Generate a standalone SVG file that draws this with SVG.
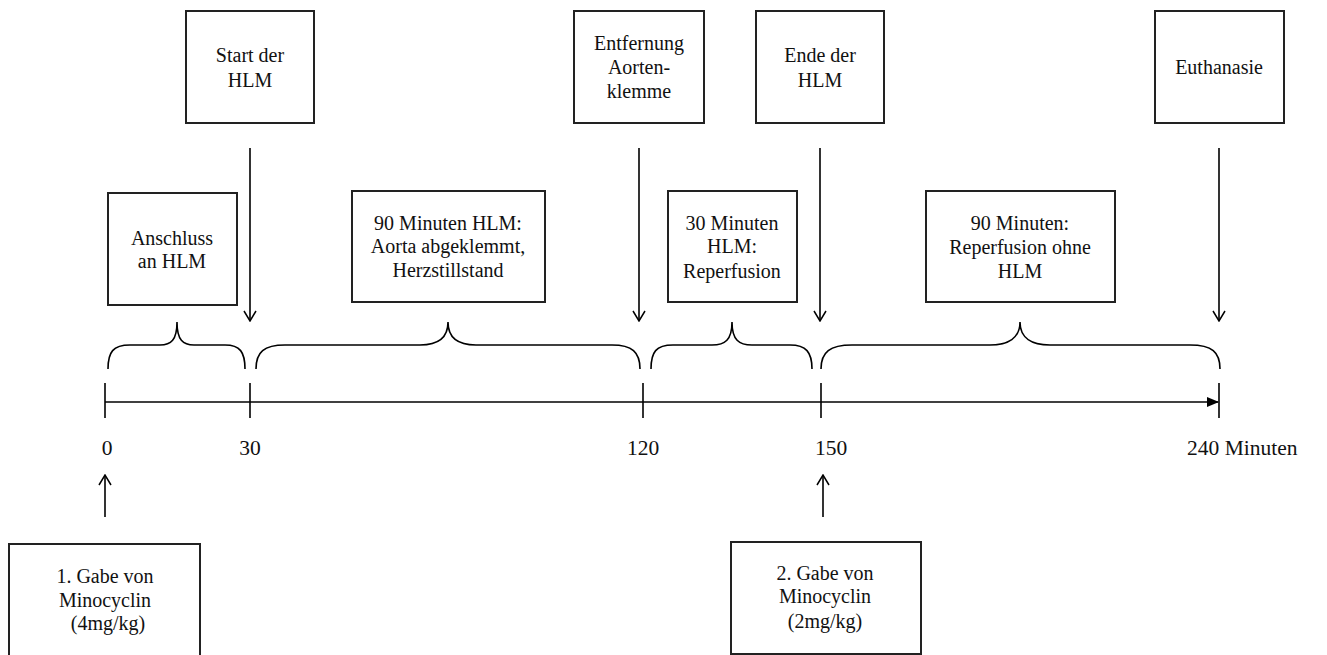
<svg xmlns="http://www.w3.org/2000/svg" width="1327" height="655" viewBox="0 0 1327 655">
<defs>
<marker id="vhead" viewBox="0 0 12 14" refX="11" refY="7" markerWidth="12" markerHeight="14" markerUnits="userSpaceOnUse" orient="auto">
<path d="M1,1 L11,7 L1,13" fill="none" stroke="#000" stroke-width="1.5"/>
</marker>
<marker id="fhead" viewBox="0 0 12 10" refX="11" refY="5" markerWidth="12" markerHeight="10" markerUnits="userSpaceOnUse" orient="auto">
<path d="M0,0 L12,5 L0,10 Z" fill="#000"/>
</marker>
</defs>
<style>
.box{fill:#fff;stroke:#222;stroke-width:2}
text{font-family:'Liberation Serif',serif;fill:#111}
.t{font-size:20px;text-anchor:middle}
.ax{font-size:21.5px}
.ln{stroke:#000;stroke-width:1.6;fill:none}
.br{stroke:#000;stroke-width:1.6;fill:none}
</style>
<rect width="1327" height="655" fill="#fff"/>

<g id="start">
<rect class="box" x="186" y="11" width="128" height="112"/>
<text class="t" x="250" y="62">Start der</text>
<text class="t" x="250" y="87">HLM</text>
</g>
<g id="entfernung">
<rect class="box" x="574" y="11" width="130" height="112"/>
<text class="t" x="639" y="50">Entfernung</text>
<text class="t" x="639" y="74">Aorten-</text>
<text class="t" x="639" y="98">klemme</text>
</g>
<g id="ende">
<rect class="box" x="756" y="11" width="128" height="112"/>
<text class="t" x="820" y="62">Ende der</text>
<text class="t" x="820" y="87">HLM</text>
</g>
<g id="euthanasie">
<rect class="box" x="1155" y="11" width="129" height="112"/>
<text class="t" x="1219" y="74">Euthanasie</text>
</g>
<g id="anschluss">
<rect class="box" x="108" y="193" width="129" height="112"/>
<text class="t" x="172" y="245">Anschluss</text>
<text class="t" x="172" y="268">an HLM</text>
</g>
<g id="phase90a">
<rect class="box" x="352" y="191" width="193" height="111"/>
<text class="t" x="448" y="230">90 Minuten HLM:</text>
<text class="t" x="448" y="253">Aorta abgeklemmt,</text>
<text class="t" x="448" y="277">Herzstillstand</text>
</g>
<g id="phase30">
<rect class="box" x="668" y="191" width="129" height="111"/>
<text class="t" x="732" y="230">30 Minuten</text>
<text class="t" x="732" y="253">HLM:</text>
<text class="t" x="732" y="278">Reperfusion</text>
</g>
<g id="phase90b">
<rect class="box" x="926" y="191" width="189" height="111"/>
<text class="t" x="1020" y="230">90 Minuten:</text>
<text class="t" x="1020" y="254">Reperfusion ohne</text>
<text class="t" x="1020" y="278">HLM</text>
</g>
<g id="gabe1">
<rect class="box" x="9" y="544" width="191" height="114"/>
<text class="t" x="105" y="583">1. Gabe von</text>
<text class="t" x="105" y="607">Minocyclin</text>
<text class="t" x="108" y="630">(4mg/kg)</text>
</g>
<g id="gabe2">
<rect class="box" x="731" y="542" width="190" height="112"/>
<text class="t" x="825" y="580">2. Gabe von</text>
<text class="t" x="825" y="603">Minocyclin</text>
<text class="t" x="825" y="628">(2mg/kg)</text>
</g>

<g id="axis">
<line class="ln" x1="105" y1="402" x2="1218" y2="402" marker-end="url(#fhead)"/>
<line class="ln" x1="105" y1="383" x2="105" y2="418"/>
<line class="ln" x1="250" y1="383" x2="250" y2="418"/>
<line class="ln" x1="643" y1="383" x2="643" y2="418"/>
<line class="ln" x1="821" y1="383" x2="821" y2="418"/>
<line class="ln" x1="1219" y1="383" x2="1219" y2="418"/>
<text class="ax" x="107" y="455" text-anchor="middle">0</text>
<text class="ax" x="250" y="455" text-anchor="middle">30</text>
<text class="ax" x="643" y="455" text-anchor="middle">120</text>
<text class="ax" x="815" y="455">150</text>
<text class="ax" x="1187" y="455">240 Minuten</text>
</g>

<g id="connectors">
<line class="ln" x1="250" y1="148" x2="250" y2="321" marker-end="url(#vhead)"/>
<line class="ln" x1="639" y1="148" x2="639" y2="321" marker-end="url(#vhead)"/>
<line class="ln" x1="820" y1="148" x2="820" y2="321" marker-end="url(#vhead)"/>
<line class="ln" x1="1219" y1="148" x2="1219" y2="321" marker-end="url(#vhead)"/>
<line class="ln" x1="105" y1="517" x2="105" y2="475" marker-end="url(#vhead)"/>
<line class="ln" x1="823" y1="517" x2="823" y2="475" marker-end="url(#vhead)"/>
</g>

<g id="braces">
<path class="br" d="M108,369 C108,352 113,345 130,345 L160,345 C171,345 177,340 177,322 C177,340 183,345 194,345 L225,345 C240,345 245,352 245,369"/>
<path class="br" d="M256,369 C256,352 264,345 285,345 L420,345 C438,345 448,338 448,322 C448,338 458,345 476,345 L612,345 C632,345 640,352 640,369"/>
<path class="br" d="M651,369 C651,352 656,345 673,345 L712,345 C725,345 732,340 732,322 C732,340 739,345 752,345 L790,345 C806,345 812,352 812,369"/>
<path class="br" d="M821,369 C821,352 830,345 852,345 L990,345 C1008,345 1020,338 1020,322 C1020,338 1032,345 1050,345 L1190,345 C1212,345 1220,352 1220,369"/>
</g>
</svg>
